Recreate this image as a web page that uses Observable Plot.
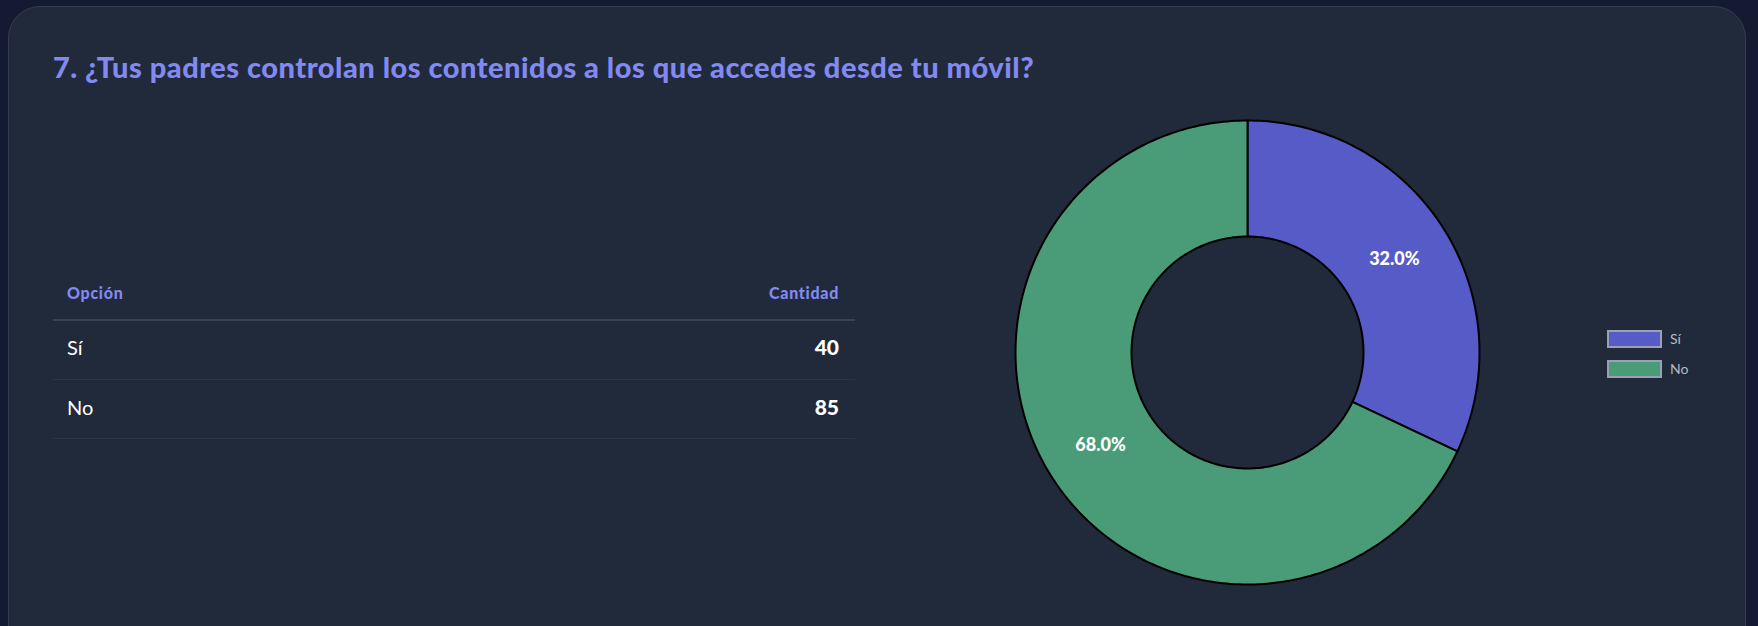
<!DOCTYPE html>
<html>
<head>
<meta charset="utf-8">
<script src="https://cdn.jsdelivr.net/npm/d3@7"></script>
<script src="https://cdn.jsdelivr.net/npm/@observablehq/plot@0.6"></script>
<style>
  html, body { margin: 0; padding: 0; }
  body { width: 1758px; height: 626px; background: #151a33; overflow: hidden; position: relative; font-family: "Lato", "Inter", sans-serif; }
  #card { position: absolute; left: 8px; top: 6px; width: 1738px; height: 680px; background: #212a3b; border: 1px solid #343d50; border-radius: 32px; box-sizing: border-box; }
  .abs { position: absolute; }
  #title { left: 53px; top: 49px; font-size: 29px; font-weight: 900; color: #8289f0; white-space: nowrap; letter-spacing: 0.5px; }
  .hdr { font-size: 16px; font-weight: 900; color: #8289f0; top: 283px; letter-spacing: 0.7px; }
  .cell { font-size: 20px; color: #ffffff; }
  .num { font-weight: 900; text-align: right; font-size: 21px; }
  .rule { left: 53px; width: 802px; background: #2d3547; }
  #chart { left: 1007px; top: 112px; }
  .sw { position: absolute; width: 51px; height: 14px; border: 2px solid #9aa1b0; }
  .lg { font-size: 14px; color: #b4b9c4; }
</style>
</head>
<body>
<div id="card"></div>
<div id="title" class="abs"></div>
<div id="table"></div>
<div id="chart" class="abs"></div>
<div id="legend"></div>
<script>
const titleText = "7. ¿Tus padres controlan los contenidos a los que accedes desde tu móvil?";
const headers = ["Opción", "Cantidad"];
const categories = ["Sí", "No"];
const counts = [40, 85];
const colors = ["#565bc7", "#4a9b78"];

document.getElementById("title").textContent = titleText;

// Table
const table = document.getElementById("table");
function addDiv(cls, text, style) {
  const d = document.createElement("div");
  d.className = "abs " + cls;
  if (text != null) d.textContent = text;
  Object.assign(d.style, style);
  table.appendChild(d);
  return d;
}
addDiv("hdr", headers[0], {left: "67px"});
addDiv("hdr", headers[1], {right: (1758 - 839) + "px"});
addDiv("rule", null, {top: "319px", height: "2px", background: "#3a4255"});
const rowTop = [335, 395];
const ruleTop = [379, 438];
categories.forEach((c, i) => {
  addDiv("cell", c, {left: "67px", top: rowTop[i] + "px"});
  addDiv("cell num", String(counts[i]), {right: (1758 - 839) + "px", top: (rowTop[i] - 1) + "px"});
  addDiv("rule", null, {top: ruleTop[i] + "px", height: "1px"});
});

// Donut geometry derived from data
const total = d3.sum(counts);
const inner = 0.5;
const pts = [];
const labels = [];
let acc = 0;
categories.forEach((c, i) => {
  const a0 = acc / total * 2 * Math.PI;
  acc += counts[i];
  const a1 = acc / total * 2 * Math.PI;
  const n = Math.max(8, Math.ceil((a1 - a0) / (2 * Math.PI) * 360));
  for (let k = 0; k <= n; k++) {
    const a = a0 + (a1 - a0) * k / n;
    pts.push({cat: c, x: Math.sin(a), y: Math.cos(a)});
  }
  for (let k = n; k >= 0; k--) {
    const a = a0 + (a1 - a0) * k / n;
    pts.push({cat: c, x: inner * Math.sin(a), y: inner * Math.cos(a)});
  }
  const am = (a0 + a1) / 2, rm = (1 + inner) / 2;
  labels.push({cat: c, x: rm * Math.sin(am), y: rm * Math.cos(am), text: (counts[i] / total * 100).toFixed(1) + "%"});
});

const chart = Plot.plot({
  width: 480,
  height: 480,
  margin: 8,
  style: {background: "transparent", overflow: "visible"},
  x: {domain: [-1, 1], axis: null},
  y: {domain: [-1, 1], axis: null},
  color: {domain: categories, range: colors},
  marks: [
    Plot.line(pts, {x: "x", y: "y", z: "cat", fill: "cat", stroke: "#000000", strokeWidth: 2, strokeLinejoin: "round", curve: "linear-closed"}),
    Plot.text(labels, {x: "x", y: "y", text: "text", fill: "#ffffff", fontSize: 18, fontWeight: 900, fontFamily: "Lato, sans-serif"})
  ]
});
document.getElementById("chart").appendChild(chart);

// Legend
const legend = document.getElementById("legend");
categories.forEach((c, i) => {
  const sw = document.createElement("div");
  sw.className = "sw";
  sw.style.left = "1607px";
  sw.style.top = (330 + i * 30) + "px";
  sw.style.background = colors[i];
  legend.appendChild(sw);
  const t = document.createElement("div");
  t.className = "abs lg";
  t.textContent = c;
  t.style.left = "1670px";
  t.style.top = (330 + i * 30) + "px";
  legend.appendChild(t);
});
</script>
</body>
</html>
